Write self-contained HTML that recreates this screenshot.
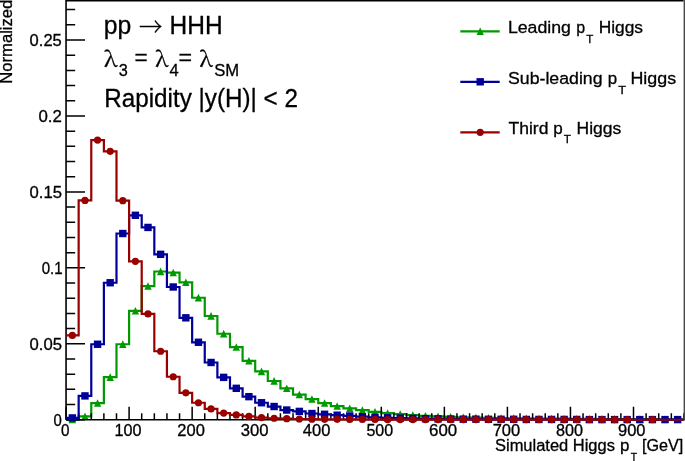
<!DOCTYPE html>
<html><head><meta charset="utf-8"><title>Simulated Higgs pT</title>
<style>html,body{margin:0;padding:0;background:#fff;overflow:hidden}svg{display:block}</style>
</head><body>
<svg width="685" height="461" viewBox="0 0 685 461">
<rect width="685" height="461" fill="#fff"/>
<path fill="none" stroke="#009900" stroke-width="2.2" d="M66.05,419.6H78.66V416.41H91.27V403.04H103.88V377.22H116.49V344.26H129.1V310.84H141.71V286.08H154.32V271.5H166.93V272.56H179.54V282.28H192.15V297.77H204.76V316H217.37V333.77H229.98V347.14H242.59V360.81H255.2V371.45H267.81V381.02H280.42V388.31H293.03V394.53H305.64V399.09H318.25V403.04H330.86V406.08H343.47V408.36H356.08V410.18H368.69V411.85H381.3V413.07H393.91V414.13H406.52V415.04H419.13V415.8H431.74V416.41H444.35V416.86H456.96V417.32H469.57V417.62H482.18V417.93H494.79V418.08H507.4V418.23H520.01V418.38H532.62V418.53H545.23V418.53H557.84V418.69H570.45V418.84H583.06V418.84H595.67V418.99H608.28V418.99H620.89V419.14H633.5V419.14H646.11V419.14H658.72V419.29H671.33V419.29H683.94"/>
<g fill="#009900"><path d="M68.65,423.3L76.05,423.3L72.35,415.7Z"/><path d="M81.27,420.11L88.67,420.11L84.97,412.51Z"/><path d="M93.87,406.74L101.27,406.74L97.57,399.14Z"/><path d="M106.48,380.92L113.89,380.92L110.19,373.32Z"/><path d="M119.09,347.96L126.49,347.96L122.79,340.36Z"/><path d="M131.7,314.54L139.1,314.54L135.4,306.94Z"/><path d="M144.31,289.78L151.71,289.78L148.01,282.18Z"/><path d="M156.93,275.2L164.32,275.2L160.62,267.6Z"/><path d="M169.53,276.26L176.93,276.26L173.23,268.66Z"/><path d="M182.14,285.98L189.54,285.98L185.84,278.38Z"/><path d="M194.75,301.47L202.15,301.47L198.45,293.87Z"/><path d="M207.37,319.7L214.76,319.7L211.06,312.1Z"/><path d="M219.98,337.47L227.38,337.47L223.68,329.87Z"/><path d="M232.58,350.84L239.98,350.84L236.28,343.24Z"/><path d="M245.19,364.51L252.59,364.51L248.89,356.91Z"/><path d="M257.81,375.15L265.2,375.15L261.5,367.55Z"/><path d="M270.41,384.72L277.81,384.72L274.11,377.12Z"/><path d="M283.02,392.01L290.42,392.01L286.72,384.41Z"/><path d="M295.63,398.23L303.03,398.23L299.33,390.63Z"/><path d="M308.25,402.79L315.64,402.79L311.94,395.19Z"/><path d="M320.86,406.74L328.25,406.74L324.56,399.14Z"/><path d="M333.46,409.78L340.86,409.78L337.16,402.18Z"/><path d="M346.07,412.06L353.47,412.06L349.77,404.46Z"/><path d="M358.69,413.88L366.08,413.88L362.38,406.28Z"/><path d="M371.3,415.55L378.69,415.55L375,407.95Z"/><path d="M383.9,416.77L391.3,416.77L387.6,409.17Z"/><path d="M396.51,417.83L403.91,417.83L400.21,410.23Z"/><path d="M409.12,418.74L416.52,418.74L412.82,411.14Z"/><path d="M421.74,419.5L429.13,419.5L425.44,411.9Z"/><path d="M434.34,420.11L441.74,420.11L438.04,412.51Z"/><path d="M446.95,420.56L454.35,420.56L450.65,412.96Z"/><path d="M459.56,421.02L466.96,421.02L463.26,413.42Z"/><path d="M472.18,421.32L479.57,421.32L475.88,413.72Z"/><path d="M484.78,421.63L492.18,421.63L488.48,414.03Z"/><path d="M497.39,421.78L504.79,421.78L501.09,414.18Z"/><path d="M510,421.93L517.4,421.93L513.7,414.33Z"/><path d="M522.61,422.08L530.01,422.08L526.31,414.48Z"/><path d="M535.22,422.23L542.62,422.23L538.92,414.63Z"/><path d="M547.83,422.23L555.24,422.23L551.53,414.63Z"/><path d="M560.44,422.39L567.85,422.39L564.14,414.79Z"/><path d="M573.05,422.54L580.46,422.54L576.75,414.94Z"/><path d="M585.66,422.54L593.06,422.54L589.36,414.94Z"/><path d="M598.27,422.69L605.67,422.69L601.97,415.09Z"/><path d="M610.88,422.69L618.28,422.69L614.58,415.09Z"/><path d="M623.49,422.84L630.89,422.84L627.19,415.24Z"/><path d="M636.1,422.84L643.5,422.84L639.8,415.24Z"/><path d="M648.71,422.84L656.12,422.84L652.41,415.24Z"/><path d="M661.32,422.99L668.72,422.99L665.02,415.39Z"/><path d="M673.93,422.99L681.33,422.99L677.63,415.39Z"/></g>
<g fill="none" stroke="#000" stroke-width="1.6">
<path d="M66.05,419.75V0.6H683.6M66.05,419.75H683.6"/>
<path stroke-width="1.5" d="M66.05,419.75V406.85M78.66,419.75V413.15M91.27,419.75V413.15M103.88,419.75V413.15M116.49,419.75V413.15M129.1,419.75V406.85M141.71,419.75V413.15M154.32,419.75V413.15M166.93,419.75V413.15M179.54,419.75V413.15M192.15,419.75V406.85M204.76,419.75V413.15M217.37,419.75V413.15M229.98,419.75V413.15M242.59,419.75V413.15M255.2,419.75V406.85M267.81,419.75V413.15M280.42,419.75V413.15M293.03,419.75V413.15M305.64,419.75V413.15M318.25,419.75V406.85M330.86,419.75V413.15M343.47,419.75V413.15M356.08,419.75V413.15M368.69,419.75V413.15M381.3,419.75V406.85M393.91,419.75V413.15M406.52,419.75V413.15M419.13,419.75V413.15M431.74,419.75V413.15M444.35,419.75V406.85M456.96,419.75V413.15M469.57,419.75V413.15M482.18,419.75V413.15M494.79,419.75V413.15M507.4,419.75V406.85M520.01,419.75V413.15M532.62,419.75V413.15M545.23,419.75V413.15M557.84,419.75V413.15M570.45,419.75V406.85M583.06,419.75V413.15M595.67,419.75V413.15M608.28,419.75V413.15M620.89,419.75V413.15M633.5,419.75V406.85M646.11,419.75V413.15M658.72,419.75V413.15M671.33,419.75V413.15M683.94,419.75V413.15M66.05,419.75H85.05M66.05,404.56H75.15M66.05,389.37H75.15M66.05,374.18H75.15M66.05,358.99H75.15M66.05,343.8H85.05M66.05,328.61H75.15M66.05,313.42H75.15M66.05,298.23H75.15M66.05,283.04H75.15M66.05,267.85H85.05M66.05,252.66H75.15M66.05,237.47H75.15M66.05,222.28H75.15M66.05,207.09H75.15M66.05,191.9H85.05M66.05,176.71H75.15M66.05,161.52H75.15M66.05,146.33H75.15M66.05,131.14H75.15M66.05,115.95H85.05M66.05,100.76H75.15M66.05,85.57H75.15M66.05,70.38H75.15M66.05,55.19H75.15M66.05,40H85.05M66.05,24.81H75.15M66.05,9.62H75.15"/>
</g>
<path fill="none" stroke="#000099" stroke-width="2.2" d="M66.05,417.93H78.66V395.9H91.27V344.26H103.88V282.74H116.49V233.52H129.1V215.29H141.71V227.44H154.32V254.33H166.93V286.99H179.54V317.83H192.15V342.28H204.76V362.48H217.37V377.37H229.98V388.31H242.59V396.66H255.2V402.74H267.81V406.53H280.42V410.03H293.03V411.4H305.64V413.52H318.25V414.28H330.86V415.19H343.47V415.95H356.08V416.71H368.69V417.32H381.3V417.78H393.91V418.08H406.52V418.38H419.13V418.69H431.74V418.84H444.35V418.99H456.96V419.14H469.57V419.14H482.18V419.29H494.79V419.29H507.4V419.29H520.01V419.45H532.62V419.45H545.23V419.45H557.84V419.45H570.45V419.45H583.06V419.6H595.67V419.6H608.28V419.6H620.89V419.6H633.5V419.6H646.11V419.6H658.72V419.6H671.33V419.6H683.94"/>
<g fill="#000099"><rect x="68.65" y="414.23" width="7.4" height="7.4"/><rect x="81.27" y="392.2" width="7.4" height="7.4"/><rect x="93.87" y="340.56" width="7.4" height="7.4"/><rect x="106.48" y="279.04" width="7.4" height="7.4"/><rect x="119.09" y="229.82" width="7.4" height="7.4"/><rect x="131.7" y="211.59" width="7.4" height="7.4"/><rect x="144.31" y="223.74" width="7.4" height="7.4"/><rect x="156.93" y="250.63" width="7.4" height="7.4"/><rect x="169.53" y="283.29" width="7.4" height="7.4"/><rect x="182.14" y="314.13" width="7.4" height="7.4"/><rect x="194.75" y="338.58" width="7.4" height="7.4"/><rect x="207.37" y="358.78" width="7.4" height="7.4"/><rect x="219.98" y="373.67" width="7.4" height="7.4"/><rect x="232.58" y="384.61" width="7.4" height="7.4"/><rect x="245.19" y="392.96" width="7.4" height="7.4"/><rect x="257.81" y="399.04" width="7.4" height="7.4"/><rect x="270.41" y="402.83" width="7.4" height="7.4"/><rect x="283.02" y="406.33" width="7.4" height="7.4"/><rect x="295.63" y="407.7" width="7.4" height="7.4"/><rect x="308.25" y="409.82" width="7.4" height="7.4"/><rect x="320.86" y="410.58" width="7.4" height="7.4"/><rect x="333.46" y="411.49" width="7.4" height="7.4"/><rect x="346.07" y="412.25" width="7.4" height="7.4"/><rect x="358.69" y="413.01" width="7.4" height="7.4"/><rect x="371.3" y="413.62" width="7.4" height="7.4"/><rect x="383.9" y="414.08" width="7.4" height="7.4"/><rect x="396.51" y="414.38" width="7.4" height="7.4"/><rect x="409.12" y="414.68" width="7.4" height="7.4"/><rect x="421.74" y="414.99" width="7.4" height="7.4"/><rect x="434.34" y="415.14" width="7.4" height="7.4"/><rect x="446.95" y="415.29" width="7.4" height="7.4"/><rect x="459.56" y="415.44" width="7.4" height="7.4"/><rect x="472.18" y="415.44" width="7.4" height="7.4"/><rect x="484.78" y="415.59" width="7.4" height="7.4"/><rect x="497.39" y="415.59" width="7.4" height="7.4"/><rect x="510" y="415.59" width="7.4" height="7.4"/><rect x="522.61" y="415.75" width="7.4" height="7.4"/><rect x="535.22" y="415.75" width="7.4" height="7.4"/><rect x="547.83" y="415.75" width="7.4" height="7.4"/><rect x="560.44" y="415.75" width="7.4" height="7.4"/><rect x="573.05" y="415.75" width="7.4" height="7.4"/><rect x="585.66" y="415.9" width="7.4" height="7.4"/><rect x="598.27" y="415.9" width="7.4" height="7.4"/><rect x="610.88" y="415.9" width="7.4" height="7.4"/><rect x="623.49" y="415.9" width="7.4" height="7.4"/><rect x="636.1" y="415.9" width="7.4" height="7.4"/><rect x="648.71" y="415.9" width="7.4" height="7.4"/><rect x="661.32" y="415.9" width="7.4" height="7.4"/><rect x="673.93" y="415.9" width="7.4" height="7.4"/></g>
<path fill="none" stroke="#990000" stroke-width="2.2" d="M66.05,335.45H78.66V200.41H91.27V140.1H103.88V151.34H116.49V200.71H129.1V261.32H141.71V313.88H154.32V351.24H166.93V376.76H179.54V392.86H192.15V402.74H204.76V408.97H217.37V413.07H229.98V414.89H242.59V416.41H255.2V417.62H267.81V418.23H280.42V418.69H293.03V418.99H305.64V419.14H318.25V419.29H330.86V419.29H343.47V419.45H356.08V419.45H368.69V419.45H381.3V419.6H393.91V419.6H406.52V419.6H419.13V419.6H431.74V419.6H444.35V419.6H456.96V419.6H469.57V419.6H482.18V419.6H494.79V419.6H507.4V419.6H520.01V419.6H532.62V419.6H545.23V419.6H557.84V419.6H570.45V419.6H583.06V419.6H595.67V419.6H608.28V419.6H620.89V419.6H633.5V419.75H646.11V419.6H658.72V419.75H671.33V419.75H683.94"/>
<g fill="#990000"><circle cx="72.35" cy="335.45" r="3.6"/><circle cx="84.97" cy="200.41" r="3.6"/><circle cx="97.57" cy="140.1" r="3.6"/><circle cx="110.19" cy="151.34" r="3.6"/><circle cx="122.79" cy="200.71" r="3.6"/><circle cx="135.4" cy="261.32" r="3.6"/><circle cx="148.01" cy="313.88" r="3.6"/><circle cx="160.62" cy="351.24" r="3.6"/><circle cx="173.23" cy="376.76" r="3.6"/><circle cx="185.84" cy="392.86" r="3.6"/><circle cx="198.45" cy="402.74" r="3.6"/><circle cx="211.06" cy="408.97" r="3.6"/><circle cx="223.68" cy="413.07" r="3.6"/><circle cx="236.28" cy="414.89" r="3.6"/><circle cx="248.89" cy="416.41" r="3.6"/><circle cx="261.5" cy="417.62" r="3.6"/><circle cx="274.11" cy="418.23" r="3.6"/><circle cx="286.72" cy="418.69" r="3.6"/><circle cx="299.33" cy="418.99" r="3.6"/><circle cx="311.94" cy="419.14" r="3.6"/><circle cx="324.56" cy="419.29" r="3.6"/><circle cx="337.16" cy="419.29" r="3.6"/><circle cx="349.77" cy="419.45" r="3.6"/><circle cx="362.38" cy="419.45" r="3.6"/><circle cx="375" cy="419.45" r="3.6"/><circle cx="387.6" cy="419.6" r="3.6"/><circle cx="400.21" cy="419.6" r="3.6"/><circle cx="412.82" cy="419.6" r="3.6"/><circle cx="425.44" cy="419.6" r="3.6"/><circle cx="438.04" cy="419.6" r="3.6"/><circle cx="450.65" cy="419.6" r="3.6"/><circle cx="463.26" cy="419.6" r="3.6"/><circle cx="475.88" cy="419.6" r="3.6"/><circle cx="488.48" cy="419.6" r="3.6"/><circle cx="501.09" cy="419.6" r="3.6"/><circle cx="513.7" cy="419.6" r="3.6"/><circle cx="526.31" cy="419.6" r="3.6"/><circle cx="538.92" cy="419.6" r="3.6"/><circle cx="551.53" cy="419.6" r="3.6"/><circle cx="564.14" cy="419.6" r="3.6"/><circle cx="576.75" cy="419.6" r="3.6"/><circle cx="589.36" cy="419.6" r="3.6"/><circle cx="601.97" cy="419.6" r="3.6"/><circle cx="614.58" cy="419.6" r="3.6"/><circle cx="627.19" cy="419.6" r="3.6"/><circle cx="652.41" cy="419.6" r="3.6"/></g>
<rect x="683.6" y="0" width="1.4" height="420.55" fill="#4a4a4a"/>
<path stroke="#009900" stroke-width="2.2" d="M460.3,31.3H499.7"/>
<path stroke="#000099" stroke-width="2.2" d="M460.3,81.8H499.7"/>
<path stroke="#990000" stroke-width="2.2" d="M460.3,132.3H499.7"/>
<path fill="#009900" d="M476.5,35L483.9,35L480.2,27.4Z"/>
<rect fill="#000099" x="476.5" y="78.1" width="7.4" height="7.4"/>
<circle fill="#990000" cx="480.2" cy="132.35" r="3.6"/>
<g fill="#000" stroke="#000" stroke-width="0.3">
<text transform="matrix(0.99,0,0,1,103.84,33.55)" font-family="'Liberation Sans',Arial,sans-serif" font-size="25">pp</text>
<text transform="matrix(0.95,0,0,1,138.9,36.4)" font-family="'Noto Serif CJK SC',serif" font-size="24.6">→</text>
<text transform="matrix(0.98,0,0,1,169.59,33.55)" font-family="'Liberation Sans',Arial,sans-serif" font-size="25">HHH</text>
<text transform="matrix(1.08,0,0,1,103.91,67.1)" font-family="'Noto Serif CJK SC',serif" font-size="21.5">λ</text>
<text transform="matrix(0.96,0,0,1,118.65,75.8)" font-family="'Liberation Sans',Arial,sans-serif" font-size="17">3</text>
<text transform="matrix(0.9,0,0,0.85,134.43,65.31)" font-family="'Liberation Sans',Arial,sans-serif" font-size="25">=</text>
<text transform="matrix(1.05,0,0,1,155.33,67.1)" font-family="'Noto Serif CJK SC',serif" font-size="21.5">λ</text>
<text transform="matrix(0.97,0,0,1,169.38,75.8)" font-family="'Liberation Sans',Arial,sans-serif" font-size="17">4</text>
<text transform="matrix(0.93,0,0,0.85,178.59,65.31)" font-family="'Liberation Sans',Arial,sans-serif" font-size="25">=</text>
<text transform="matrix(1.06,0,0,1,199.52,66.9)" font-family="'Noto Serif CJK SC',serif" font-size="21.5">λ</text>
<text transform="matrix(0.98,0,0,1,214.19,76.3)" font-family="'Liberation Sans',Arial,sans-serif" font-size="17">SM</text>
<text transform="matrix(0.97,0,0,1,104.2,106.55)" font-family="'Liberation Sans',Arial,sans-serif" font-size="25">Rapidity |y(H)| &lt; 2</text>
<text transform="matrix(1.03,0,0,1,507.93,32.7)" font-family="'Liberation Sans',Arial,sans-serif" font-size="17.2">Leading</text>
<text transform="matrix(0.93,0,0,1,576.3,32.7)" font-family="'Liberation Sans',Arial,sans-serif" font-size="17.2">p</text>
<text transform="matrix(1,0,0,1,586.2,42.6)" font-family="'Liberation Sans',Arial,sans-serif" font-size="11.5">T</text>
<text transform="matrix(1.01,0,0,1,598.66,32.7)" font-family="'Liberation Sans',Arial,sans-serif" font-size="17.2">Higgs</text>
<text transform="matrix(1.03,0,0,1,508.07,83.6)" font-family="'Liberation Sans',Arial,sans-serif" font-size="17.2">Sub-leading</text>
<text transform="matrix(0.98,0,0,1,607.85,83.6)" font-family="'Liberation Sans',Arial,sans-serif" font-size="17.2">p</text>
<text transform="matrix(1.11,0,0,1,618.37,93.6)" font-family="'Liberation Sans',Arial,sans-serif" font-size="11.5">T</text>
<text transform="matrix(1.04,0,0,1,630.42,83.6)" font-family="'Liberation Sans',Arial,sans-serif" font-size="17.2">Higgs</text>
<text transform="matrix(1.02,0,0,1,508.47,133.5)" font-family="'Liberation Sans',Arial,sans-serif" font-size="17.2">Third</text>
<text transform="matrix(0.99,0,0,1,553.13,133.5)" font-family="'Liberation Sans',Arial,sans-serif" font-size="17.2">p</text>
<text transform="matrix(1.02,0,0,1,563.8,143.1)" font-family="'Liberation Sans',Arial,sans-serif" font-size="11.5">T</text>
<text transform="matrix(1.02,0,0,1,576.55,133.5)" font-family="'Liberation Sans',Arial,sans-serif" font-size="17.2">Higgs</text>
<text transform="matrix(1.03,0,0,1,494.98,451)" font-family="'Liberation Sans',Arial,sans-serif" font-size="16">Simulated Higgs</text>
<text transform="matrix(1.06,0,0,1,619.89,451)" font-family="'Liberation Sans',Arial,sans-serif" font-size="16">p</text>
<text transform="matrix(0.94,0,0,1,630.71,461.4)" font-family="'Liberation Sans',Arial,sans-serif" font-size="11">T</text>
<text transform="matrix(1.01,0,0,1,641.91,451)" font-family="'Liberation Sans',Arial,sans-serif" font-size="16">[GeV]</text>
<text transform="matrix(0.94,0,0,1,60.96,436.4)" font-family="'Liberation Sans',Arial,sans-serif" font-size="16.2">0</text>
<text transform="matrix(1,0,0,1,114.5,436.4)" font-family="'Liberation Sans',Arial,sans-serif" font-size="16.2">100</text>
<text transform="matrix(1.02,0,0,1,177.36,436.4)" font-family="'Liberation Sans',Arial,sans-serif" font-size="16.2">200</text>
<text transform="matrix(1.03,0,0,1,240.71,436.4)" font-family="'Liberation Sans',Arial,sans-serif" font-size="16.2">300</text>
<text transform="matrix(1.02,0,0,1,302.77,436.4)" font-family="'Liberation Sans',Arial,sans-serif" font-size="16.2">400</text>
<text transform="matrix(0.99,0,0,1,366.43,436.4)" font-family="'Liberation Sans',Arial,sans-serif" font-size="16.2">500</text>
<text transform="matrix(1.04,0,0,1,429.04,436.4)" font-family="'Liberation Sans',Arial,sans-serif" font-size="16.2">600</text>
<text transform="matrix(1.02,0,0,1,492.65,436.4)" font-family="'Liberation Sans',Arial,sans-serif" font-size="16.2">700</text>
<text transform="matrix(1,0,0,1,556.1,436.4)" font-family="'Liberation Sans',Arial,sans-serif" font-size="16.2">800</text>
<text transform="matrix(1.02,0,0,1,617.98,436.4)" font-family="'Liberation Sans',Arial,sans-serif" font-size="16.2">900</text>
<text transform="matrix(0.92,0,0,1,53.38,425.8)" font-family="'Liberation Sans',Arial,sans-serif" font-size="16.2">0</text>
<text transform="matrix(1.03,0,0,1,29.51,349.85)" font-family="'Liberation Sans',Arial,sans-serif" font-size="16.2">0.05</text>
<text transform="matrix(0.93,0,0,1,41.67,273.9)" font-family="'Liberation Sans',Arial,sans-serif" font-size="16.2">0.1</text>
<text transform="matrix(1.03,0,0,1,29.51,197.95)" font-family="'Liberation Sans',Arial,sans-serif" font-size="16.2">0.15</text>
<text transform="matrix(1.04,0,0,1,38.4,122)" font-family="'Liberation Sans',Arial,sans-serif" font-size="16.2">0.2</text>
<text transform="matrix(1.02,0,0,1,29.61,46.05)" font-family="'Liberation Sans',Arial,sans-serif" font-size="16.2">0.25</text>
<text transform="matrix(0,-1.04,1,0,11.75,83.77)" font-family="'Liberation Sans',Arial,sans-serif" font-size="16">Normalized</text>
</g>
</svg>
</body></html>
